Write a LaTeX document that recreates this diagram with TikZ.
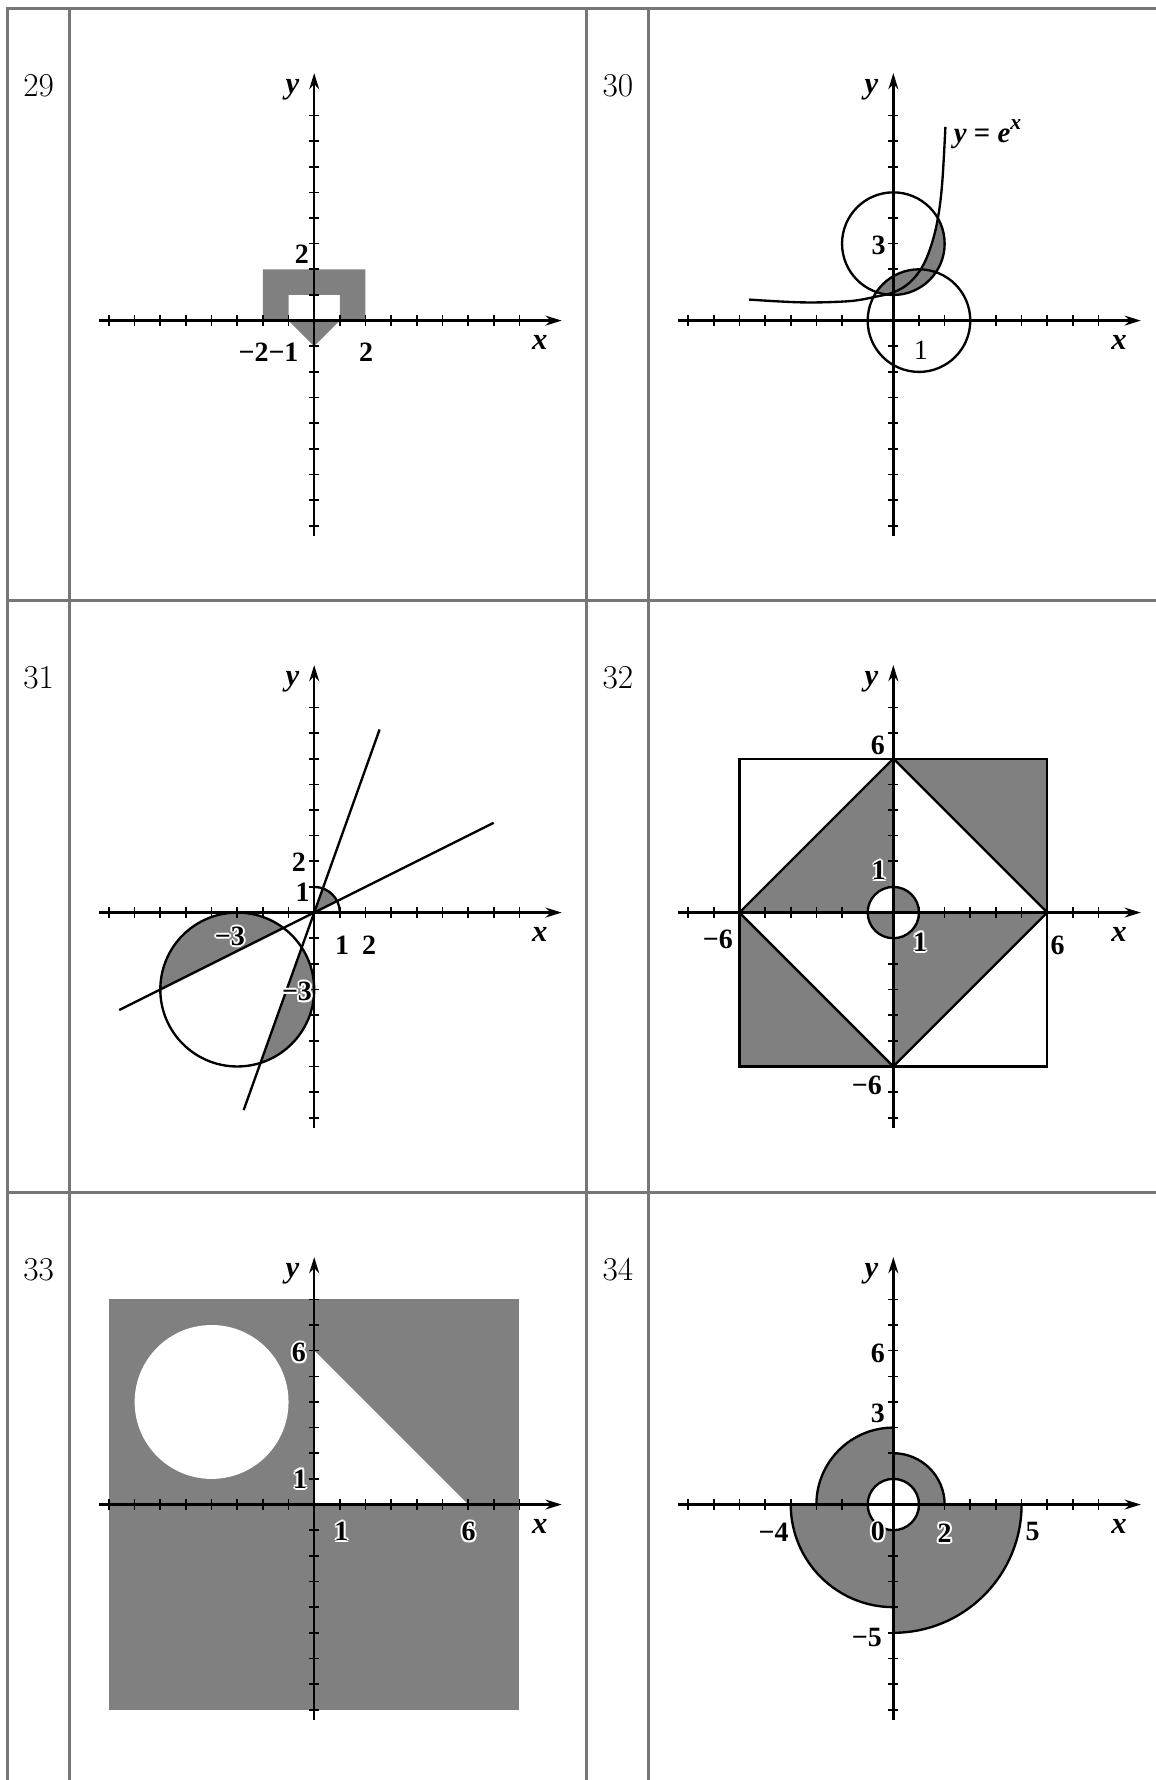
\documentclass[tikz,border=0pt]{standalone}
\usepackage{fontspec}
\newfontfamily\lblfont{Liberation Serif}
\usetikzlibrary{arrows.meta}
\newcommand{\CW}{22.58}
\newcommand{\RH}{23.08}
\newcommand{\XL}{0.30}
\newcommand{\YT}{-0.33}
\newcommand{\OX}{11.95}
\newcommand{\OY}{12.17}
\definecolor{rulegray}{RGB}{118,118,118}
\definecolor{areagray}{RGB}{128,128,128}

% black digits with a thin white rim
\newcommand{\halo}[1]{\leavevmode\rlap{\color{white}%
  \foreach \hx/\hy in {1.1/0,0.8/0.8,0/1.1,-0.8/0.8,-1.1/0,-0.8/-0.8,0/-1.1,0.8/-0.8}%
    {\rlap{\hspace*{\hx pt}\raisebox{\hy pt}{#1}}}}#1}

% axes with ticks, #1 = prefix for the node names
\newcommand{\drawaxes}[1]{%
  \draw[axis] (-8.4,0) -- (9.65,0);
  \draw[axis] (0,-8.4) -- (0,9.65);
  \foreach \tk in {-8,...,-1,1,2,...,8} {
    \draw[tickmark] (\tk,-0.2) -- (\tk,0.2);
    \draw[tickmark] (-0.2,\tk) -- (0.2,\tk);
  }
  \node[axlbl] (#1x) at (8.8,-0.87) {x};
  \node[axlbl] (#1y) at (-0.85,9.0) {y};
}

\newcommand{\expcurve}{plot[smooth, tension=0.6] coordinates {(-5.62,0.82) (-4.5,0.75) (-3.5,0.71) (-2.5,0.72) (-1.5,0.78) (-0.7,0.93) (0,1.1) (0.6,1.45) (1.1,2.05) (1.45,2.85) (1.72,3.9) (1.9,5.3) (2.03,7.55)}}

\begin{document}
\begin{tikzpicture}[x=0.5cm, y=0.5cm,
    >={Stealth[length=9pt,width=5.5pt]},
    axis/.style={->, line width=1.3pt},
    tickmark/.style={line width=0.9pt},
    outl/.style={line width=1.3pt},
    area/.style={fill=areagray},
    rule/.style={draw=rulegray, line width=1.7pt, line cap=rect},
    lbl/.style={font=\fontsize{15.5}{16}\selectfont\lblfont\bfseries, inner sep=0pt},
    axlbl/.style={font=\fontsize{17}{18}\selectfont\lblfont\bfseries\itshape, inner sep=0pt},
    num/.style={font=\fontsize{18.5}{20}\selectfont, inner sep=0pt},
  ]
  \useasboundingbox (0,-69.40) rectangle (45.07,0);

  % table rules
  \foreach \c in {0,1} {
    \draw[rule] ({\XL+\c*\CW},\YT) -- ({\XL+\c*\CW},-69.8);
    \draw[rule] ({\XL+\c*\CW+2.42},\YT) -- ({\XL+\c*\CW+2.42},-69.8);
  }
  \foreach \r in {0,1,2} { \draw[rule] (\XL,{\YT-\r*\RH}) -- (45.4,{\YT-\r*\RH}); }

  % problem numbers
  \foreach \n/\c/\r in {29/0/0,30/1/0,31/0/1,32/1/1,33/0/2,34/1/2}
    \node[num] (n\n) at ({\XL+\c*\CW+1.21},{\YT-\r*\RH-3.0}) {\n};

  % 29
  \begin{scope}[shift={({\XL+\OX},{\YT-\OY})}]
    \fill[area] (-2,0) -- (-2,2) -- (2,2) -- (2,0) -- (1,0) -- (1,1) -- (-1,1) -- (-1,0) -- cycle;
    \fill[area] (-1,0) -- (1,0) -- (0,-1) -- cycle;
    \drawaxes{a}
    \node[lbl] (a2y) at (-0.48,2.58) {2};
    \node[lbl] (am21) at (-1.78,-1.22) {−2−1};
    \node[lbl] (a2x) at (2.02,-1.22) {2};
  \end{scope}

  % 30
  \begin{scope}[shift={({\XL+\CW+\OX},{\YT-\OY})}]
    \begin{scope}
      \clip (0,3) circle (2);
      \fill[area] (1,0) circle (2);
      \fill[area] \expcurve -- (5,7.55) -- (5,-3) -- (-5.62,-3) -- cycle;
    \end{scope}
    \draw[outl] (0,3) circle (2);
    \draw[outl] (1,0) circle (2);
    \draw[outl] \expcurve;
    \drawaxes{b}
    \node[lbl] (b3) at (-0.57,2.94) {3};
    \node[lbl, font=\fontsize{15.5}{16}\selectfont\lblfont] (b1) at (1.07,-1.15) {1};
    \node[lbl, anchor=west, font=\fontsize{16}{17}\selectfont\lblfont\bfseries\itshape] (bexp) at (2.35,7.28)
      {y \upshape= \itshape e\raisebox{0.45em}{\fontsize{12}{12}\selectfont x}};
  \end{scope}

  % 31
  \begin{scope}[shift={({\XL+\OX},{\YT-\RH-\OY})}]
    \begin{scope}
      \clip (-3,-3) circle (3);
      \fill[area] (-7,-3.5) -- (1,0.5) -- (-7,0.5) -- cycle;
      \fill[area] (0.357,1) -- (-2.5,-7) -- (1,-7) -- (1,1) -- cycle;
    \end{scope}
    \fill[area] (0,0) -- (26.57:1) arc[start angle=26.57, end angle=70.35, radius=1] -- cycle;
    \draw[outl] (0,1) arc[start angle=90, end angle=0, radius=1];
    \draw[outl] (-3,-3) circle (3);
    \draw[outl] (-7.6,-3.8) -- (7,3.5);
    \draw[outl] (-2.75,-7.7) -- (2.55,7.14);
    \drawaxes{c}
    \node[lbl] (c2y) at (-0.6,1.96) {2};
    \node[lbl] (c1y) at (-0.45,0.79) {1};
    \node[lbl] (c1x) at (1.09,-1.27) {1};
    \node[lbl] (c2x) at (2.14,-1.27) {2};
    \node[lbl] (cm3x) at (-3.29,-0.93) {\halo{−3}};
    \node[lbl] (cm3y) at (-0.67,-3.09) {\halo{−3}};
  \end{scope}

  % 32
  \begin{scope}[shift={({\XL+\CW+\OX},{\YT-\RH-\OY})}]
    \fill[area] (0,6) -- (6,6) -- (6,0) -- cycle;
    \fill[area] (-6,0) -- (0,6) -- (0,0) -- cycle;
    \fill[area] (0,0) -- (6,0) -- (0,-6) -- cycle;
    \fill[area] (-6,0) -- (-6,-6) -- (0,-6) -- cycle;
    \fill[white] (0,0) -- (0,1) arc[start angle=90, end angle=180, radius=1] -- cycle;
    \fill[white] (0,0) -- (0,-1) arc[start angle=270, end angle=360, radius=1] -- cycle;
    \fill[area] (0,0) -- (1,0) arc[start angle=0, end angle=90, radius=1] -- cycle;
    \fill[area] (0,0) -- (-1,0) arc[start angle=180, end angle=270, radius=1] -- cycle;
    \draw[outl] (-6,-6) rectangle (6,6);
    \draw[outl] (0,6) -- (6,0) -- (0,-6) -- (-6,0) -- cycle;
    \draw[outl] (0,0) circle (1);
    \drawaxes{d}
    \node[lbl] (d6y) at (-0.6,6.5) {6};
    \node[lbl] (d1y) at (-0.56,1.64) {\halo{1}};
    \node[lbl] (d1x) at (1.04,-1.15) {\halo{1}};
    \node[lbl] (dm6x) at (-6.84,-1.03) {−6};
    \node[lbl] (d6x) at (6.4,-1.27) {6};
    \node[lbl] (dm6y) at (-1.03,-6.73) {−6};
  \end{scope}

  % 33
  \begin{scope}[shift={({\XL+\OX},{\YT-2*\RH-\OY})}]
    \fill[area] (-8,-8) rectangle (8,8);
    \fill[white] (-4,4) circle (3);
    \fill[white] (0,0) -- (6,0) -- (0,6) -- cycle;
    \drawaxes{e}
    \node[lbl] (e6y) at (-0.6,5.92) {\halo{6}};
    \node[lbl] (e1y) at (-0.55,0.99) {\halo{1}};
    \node[lbl] (e1x) at (1.06,-1.05) {\halo{1}};
    \node[lbl] (e6x) at (6.02,-1.05) {\halo{6}};
  \end{scope}

  % 34
  \begin{scope}[shift={({\XL+\CW+\OX},{\YT-2*\RH-\OY})}]
    \filldraw[area, outl] (0,3) arc[start angle=90, end angle=180, radius=3] -- (-4,0)
      arc[start angle=180, end angle=270, radius=4] -- (0,-5)
      arc[start angle=270, end angle=360, radius=5] -- (2,0)
      arc[start angle=0, end angle=90, radius=2] -- cycle;
    \filldraw[fill=white, outl] (0,0) circle (1);
    \drawaxes{f}
    \node[lbl] (f6y) at (-0.6,5.9) {6};
    \node[lbl] (f3y) at (-0.6,3.56) {3};
    \node[lbl] (fm4x) at (-4.67,-1.1) {−4};
    \node[lbl] (f0) at (-0.6,-1.05) {\halo{0}};
    \node[lbl] (f2x) at (2.0,-1.1) {\halo{2}};
    \node[lbl] (f5x) at (5.43,-1.05) {5};
    \node[lbl] (fm5y) at (-1.03,-5.18) {−5};
  \end{scope}

\end{tikzpicture}
\end{document}
